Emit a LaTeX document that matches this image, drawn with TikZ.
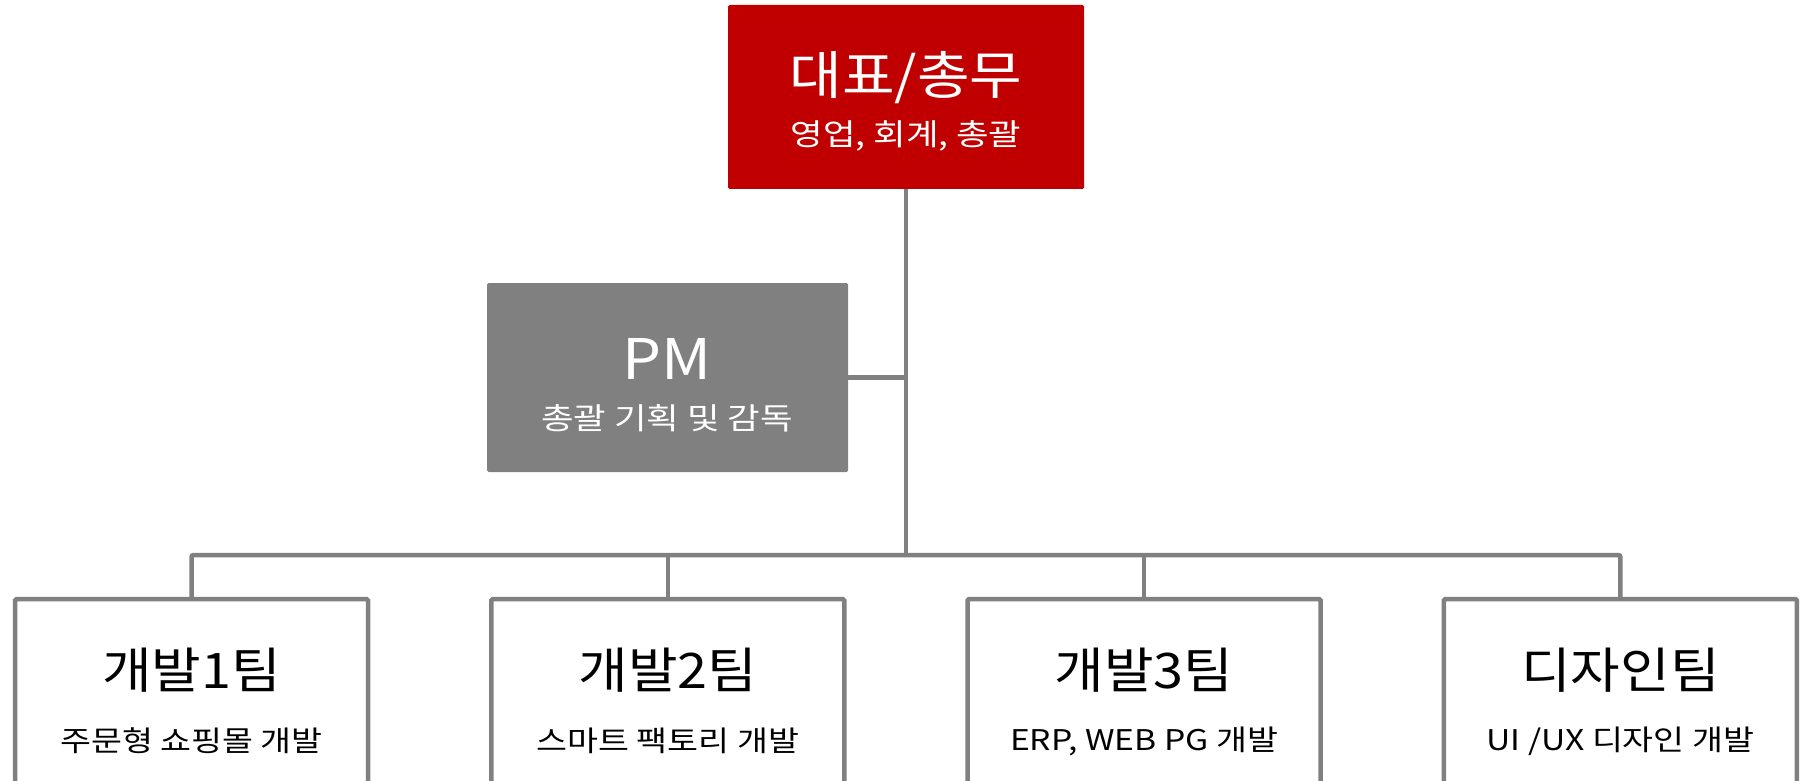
\documentclass[tikz,border=0pt]{standalone}
\usepackage{fontspec}
\setmainfont{Noto Sans CJK KR}
\newfontfamily\ttlfont[FakeStretch=1.1]{Noto Sans CJK KR}
\newfontfamily\subfont[FakeStretch=1.18]{Noto Sans CJK KR}
\usepackage{tikz}
\usetikzlibrary{positioning, calc}

\definecolor{ceored}{HTML}{C00000}
\definecolor{linegray}{HTML}{808080}

\begin{document}
\begin{tikzpicture}[x=1pt, y=-1pt,
        box/.style={rectangle, rounded corners=1.5pt, inner sep=0pt},
        ttl/.style={inner sep=0pt, font=\ttlfont\fontsize{52}{58}\selectfont},
        sub/.style={inner sep=0pt, font=\subfont\fontsize{30}{36}\selectfont},
        teamsub/.style={inner sep=0pt, font=\subfont\fontsize{28.5}{34}\selectfont},
        conn/.style={draw=linegray, line width=4.5pt}]
        \path[use as bounding box, clip] (0,0) rectangle (1808,781);
        % top and PM boxes
        \node[box, fill=ceored, minimum width=356pt, minimum height=184pt] (ceo) at (906,97) {};
        \node[ttl, text=white] (ceo-t) at (906,78) {대표/총무};
        \node[sub, text=white] (ceo-s) at (906,135.5) {영업, 회계, 총괄};
        \node[box, fill=linegray, minimum width=361pt, minimum height=189pt] (pm) at (667.5,377.5) {};
        \node[ttl, text=white, font=\ttlfont\fontsize{56}{62}\selectfont] (pm-t) at (667,359) {PM};
        \node[sub, text=white] (pm-s) at (667,418) {총괄 기획 및 감독};
        \coordinate (bus) at (906,555);
        % team boxes
        \foreach \i/\name/\desc in {1/개발1팀/주문형 쇼핑몰 개발, 2/개발2팀/스마트 팩토리 개발,
                3/개발3팀/{ERP, WEB PG 개발}, 4/디자인팀/{UI /UX 디자인 개발}}{
            \node[box, draw=linegray, line width=4.5pt, fill=white, minimum width=353pt, minimum height=218pt]
                (team\i) at ({191.5+(\i-1)*476.3},708) {};
            \node[ttl, font=\ttlfont\fontsize{49}{55}\selectfont] (team\i-t) at ({191.5+(\i-1)*476.3},670) {\name};
            \node[teamsub] (team\i-s) at ({191.5+(\i-1)*476.3},741) {\desc};
        }
        \draw[conn] (ceo.south) -- (bus);
        \draw[conn] (pm.east) -- (pm.east -| bus);
        \draw[conn, rounded corners=2pt] (team1.north) |- (bus) -| (team4.north);
        \foreach \i in {2,3}
            \draw[conn] (team\i.north) -- (team\i.north |- bus);
\end{tikzpicture}
\end{document}
